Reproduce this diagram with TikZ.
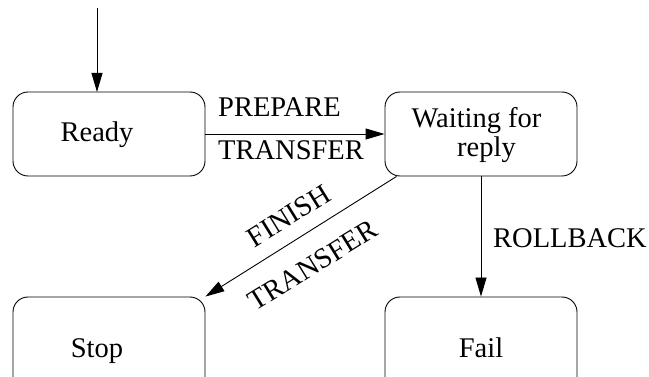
\documentclass[tikz,border=0pt]{standalone}
\usepackage{fontspec}
\setmainfont{Liberation Serif}
\usetikzlibrary{arrows.meta,calc}
\begin{document}
\begin{tikzpicture}[x=1pt,y=-1pt,
  state/.style={draw,line width=0.9pt,rounded corners=15pt,minimum width=192pt,inner sep=0pt},
  lbl/.style={font=\fontsize{28.5}{32}\selectfont,inner sep=0pt},
  edge/.style={line width=0.9pt,-{Triangle[length=19pt,width=11pt]}}]
\useasboundingbox (0,0) rectangle (649,377);
\clip (0,0) rectangle (649,377);
\node[state,minimum height=84pt] (r) at (109,134) {};
\node[lbl,anchor=base] at (97,142) {Ready};
\node[state,minimum height=84pt] (w) at (481,134) {};
\node[lbl,anchor=base] at (476.5,128) {Waiting for};
\node[lbl,anchor=base] at (486.5,157) {reply};
\node[state,minimum height=100pt] (s) at (109,347) {};
\node[lbl,anchor=base] at (97,357) {Stop};
\node[state,minimum height=100pt] (f) at (481,347) {};
\node[lbl,anchor=base] at (481,357) {Fail};
\coordinate (start) at (97,8);
\draw[edge] (start) -- (97,92);
\draw[edge] (r.east) -- (w.west);
\node[lbl,anchor=base west] at (218,117) {PREPARE};
\node[lbl,anchor=base west] at (218,160) {TRANSFER};
\draw[edge] ($(w.south west)+(12,0)$) -- (s.north east);
\node[lbl,rotate=31.8] at (289,216) {FINISH};
\node[lbl,rotate=31.8] at (313,265) {TRANSFER};
\draw[edge] (w.south) -- (f.north);
\node[lbl,anchor=base west] at (493,248) {ROLLBACK};
\end{tikzpicture}
\end{document}
